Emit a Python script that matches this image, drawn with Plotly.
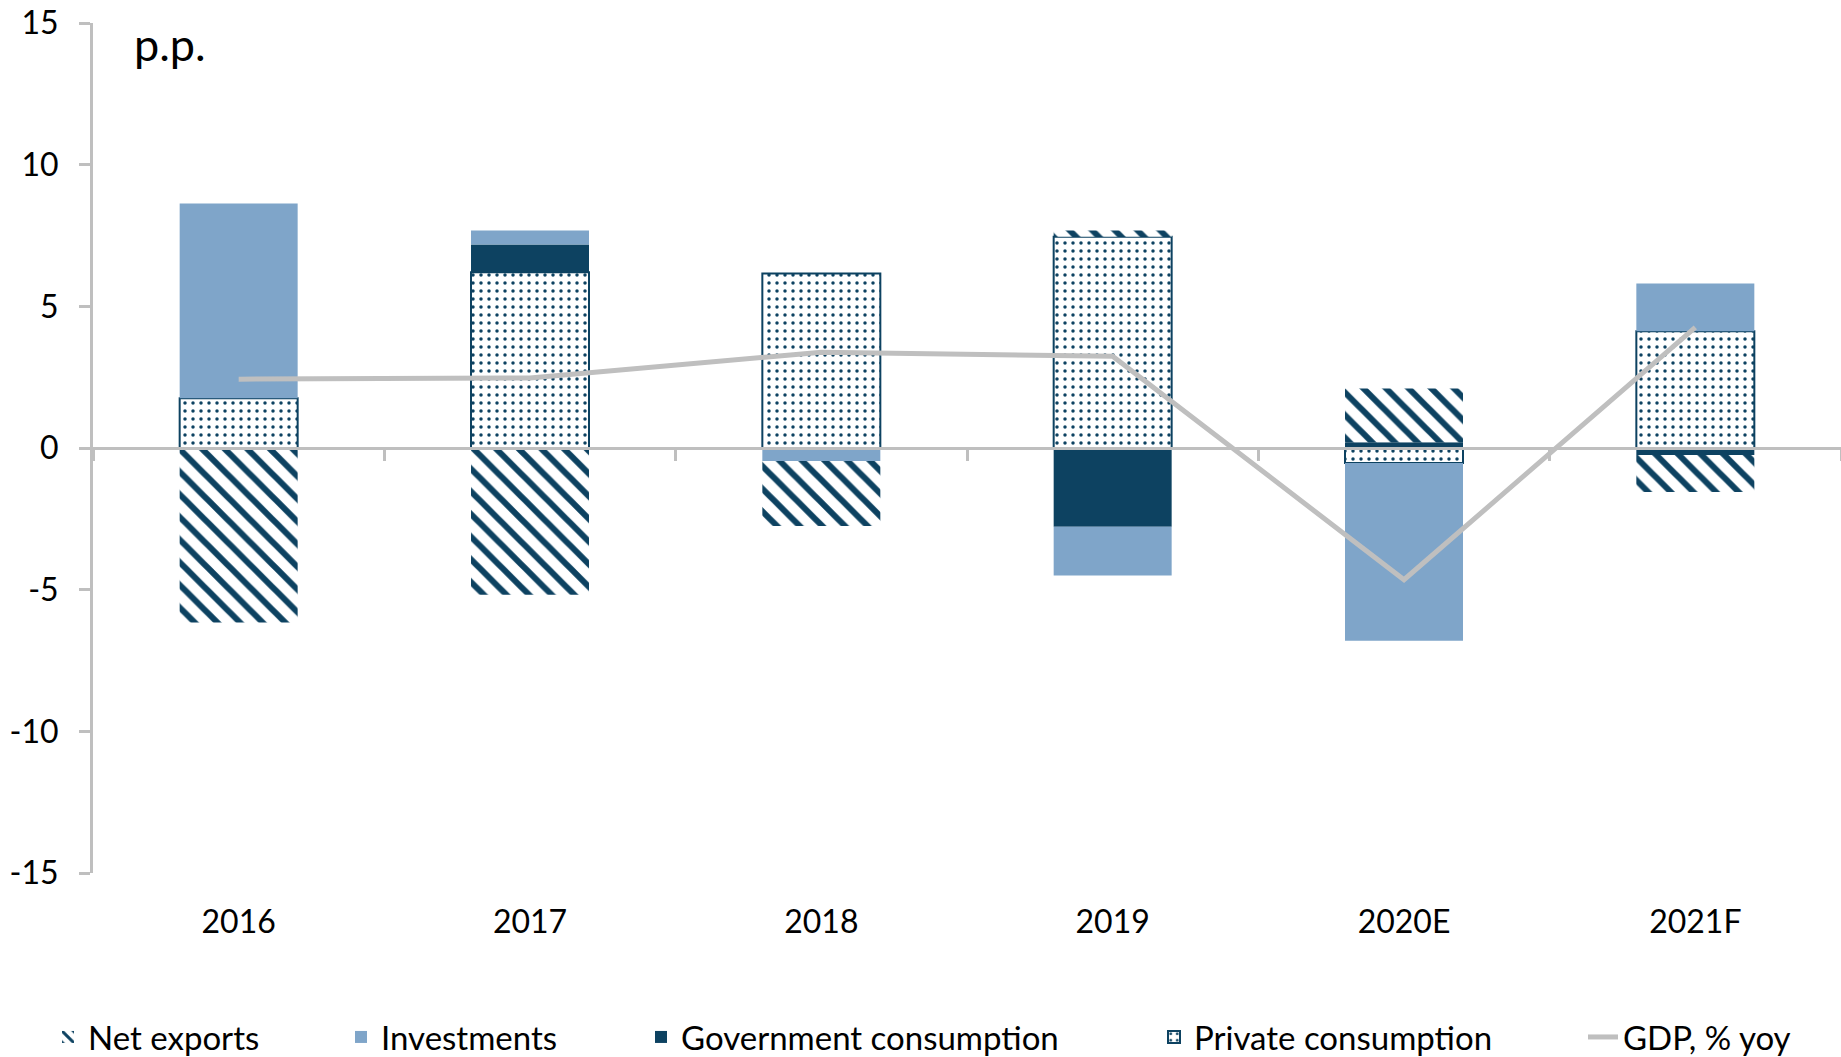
import plotly.graph_objects as go

years = ["2016", "2017", "2018", "2019", "2020E", "2021F"]
net_exports = [-6.16, -5.18, -2.29, 0.22, 1.90, -1.30]
investments = [6.87, 0.50, -0.46, -1.72, -6.27, 1.69]
government = [0.0, 0.98, 0.0, -2.78, 0.20, -0.25]
private = [1.76, 6.20, 6.16, 7.46, -0.53, 4.12]
gdp = [2.43, 2.47, 3.38, 3.24, -4.65, 4.26]
y_ticks = [-15, -10, -5, 0, 5, 10, 15]
y_ticklabels = ["-15", "-10", "-5", "0", "5", "10", "15"]

DARK = "#0D4261"
LIGHT = "#7FA5C9"
GREY = "#BFBFBF"
FONT = "Lato"

fig = go.Figure()

# stacking order from the axis outward: private, government, investments, net exports
fig.add_trace(go.Bar(
    x=years, y=private, name="Private consumption", legend="legend4",
    marker=dict(color="white", line=dict(color=DARK, width=2),
                pattern=dict(shape=".", fgcolor=DARK, fgopacity=1, bgcolor="white",
                             size=8, solidity=0.15)),
))
fig.add_trace(go.Bar(
    x=years, y=government, name="Government consumption", legend="legend3",
    marker=dict(color=DARK, line=dict(width=0)),
))
fig.add_trace(go.Bar(
    x=years, y=investments, name="Investments", legend="legend2",
    marker=dict(color=LIGHT, line=dict(width=0)),
))
fig.add_trace(go.Bar(
    x=years, y=net_exports, name="Net exports", legend="legend",
    marker=dict(color="white", line=dict(width=0),
                pattern=dict(shape="\\", fgcolor=DARK, fgopacity=1, bgcolor="white",
                             size=16, solidity=0.38)),
))
fig.add_trace(go.Scatter(
    x=years, y=gdp, name="GDP, % yoy", legend="legend5", xaxis="x2", yaxis="y",
    mode="lines", line=dict(color=GREY, width=5),
))

FIG_W, FIG_H = 1841, 1057
plot_left, plot_top, plot_bottom = 93, 23, 873
plot_h = plot_bottom - plot_top


def cx(px):
    return px / FIG_W


def cy(py):
    return 1 - py / FIG_H


leg_common = dict(orientation="h", xref="container", yref="container", yanchor="middle",
                  y=cy(1037), xanchor="left",
                  font=dict(family=FONT, size=33, color="black"), bgcolor="rgba(0,0,0,0)")

fig.update_layout(
    width=FIG_W, height=FIG_H,
    margin=dict(l=plot_left, r=0, t=plot_top, b=FIG_H - plot_bottom),
    paper_bgcolor="white", plot_bgcolor="white",
    barmode="relative", bargap=0.595, showlegend=True,
    font=dict(family=FONT, size=32, color="black"),
    legend=dict(x=cx(48), **leg_common),
    legend2=dict(x=cx(341), **leg_common),
    legend3=dict(x=cx(641), **leg_common),
    legend4=dict(x=cx(1154), **leg_common),
    legend5=dict(x=cx(1583), **leg_common),
    xaxis=dict(type="category", categoryorder="array", categoryarray=years,
               range=[-0.5, 5.5], showline=False, ticks="", showgrid=False,
               ticklabelstandoff=27, tickfont=dict(family=FONT, size=32, color="black")),
    xaxis2=dict(type="category", categoryorder="array", categoryarray=years,
                overlaying="x", anchor="free", position=0.5, side="bottom",
                range=[-0.5, 5.5], showline=True, linecolor=GREY, linewidth=3,
                ticks="outside", tickson="boundaries", ticklen=11, tickwidth=3,
                tickcolor=GREY, showticklabels=False, showgrid=False),
    yaxis=dict(range=[-15, 15], tickvals=y_ticks, ticktext=y_ticklabels,
               showline=True, linecolor=GREY, linewidth=3, ticks="outside",
               ticklen=11, tickwidth=3, tickcolor=GREY, showgrid=False, zeroline=False,
               ticklabeloverflow="allow",
               ticklabelstandoff=14, tickfont=dict(family=FONT, size=32, color="black")),
    annotations=[dict(text="p.p.", xref="paper", yref="paper",
                      x=(132 - plot_left) / (FIG_W - plot_left), y=1 - (44 - plot_top) / plot_h,
                      xanchor="left", yanchor="middle", showarrow=False,
                      font=dict(family=FONT, size=45, color="black"))],
)

fig.write_html("out.html", config={"displayModeBar": False},
               post_script="document.body.style.margin='0';document.body.style.overflow='hidden';")
